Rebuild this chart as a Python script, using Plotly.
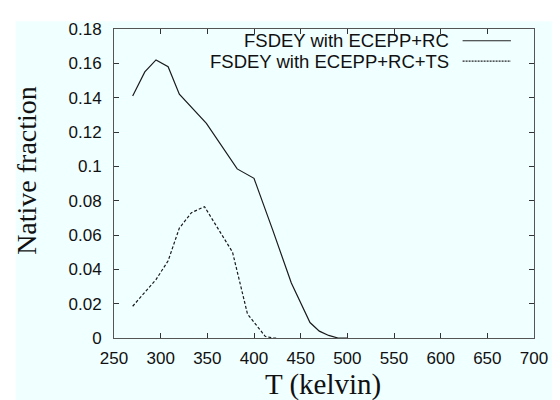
import plotly.graph_objects as go

# Data
solid_T = [270, 283, 295, 308, 320, 349, 382, 400, 420, 440, 460, 470, 480, 490, 500]
solid_v = [0.141, 0.155, 0.162, 0.158, 0.142, 0.125, 0.0985, 0.093, 0.063, 0.032, 0.009, 0.004, 0.0015, 0.0, 0.0]
dashed_T = [270, 295, 308, 320, 333, 347, 377, 393, 412, 420, 425]
dashed_v = [0.0185, 0.034, 0.045, 0.064, 0.073, 0.0765, 0.050, 0.014, 0.001, 0.0, 0.0]
series_names = ["FSDEY with ECEPP+RC", "FSDEY with ECEPP+RC+TS"]
x_ticks = [250, 300, 350, 400, 450, 500, 550, 600, 650, 700]
y_ticks = [0, 0.02, 0.04, 0.06, 0.08, 0.1, 0.12, 0.14, 0.16, 0.18]
y_labels = ["0", "0.02", "0.04", "0.06", "0.08", "0.1", "0.12", "0.14", "0.16", "0.18"]

BG = "#F0FFFF"
SANS = "Liberation Sans, Arial, sans-serif"
SERIF = "Liberation Serif, Times New Roman, serif"

fig = go.Figure()
fig.add_trace(go.Scatter(x=solid_T, y=solid_v, mode="lines", name=series_names[0],
                         line=dict(color="#1a1a1a", width=1.2), showlegend=False))
fig.add_trace(go.Scatter(x=dashed_T, y=dashed_v, mode="lines", name=series_names[1],
                         line=dict(color="#1a1a1a", width=1.2, dash="3px,2px"), showlegend=False))

axis_common = dict(showline=True, linecolor="#555", linewidth=1, mirror="ticks",
                   ticks="inside", ticklen=5, tickcolor="#333", showgrid=False, zeroline=False,
                   tickfont=dict(family=SANS, size=17, color="#111"))

fig.update_xaxes(range=[250, 700], tickvals=x_ticks, ticklabelstandoff=5, **axis_common)
fig.update_yaxes(range=[0, 0.18], tickvals=y_ticks, ticktext=y_labels, ticklabelstandoff=8, **axis_common)

# Legend (gnuplot style: text right-aligned, sample to the right)
leg_y = [0.962, 0.896]
leg_dash = ["solid", "2px,1px"]
for name, yy, d in zip(series_names, leg_y, leg_dash):
    fig.add_annotation(x=0.802, y=yy, xref="paper", yref="paper", text=name, showarrow=False,
                       xanchor="right", yanchor="middle", font=dict(family=SANS, size=18.5, color="#111"))
    fig.add_shape(type="line", xref="paper", yref="paper", x0=0.830, x1=0.945, y0=yy, y1=yy,
                  line=dict(color="#222", width=1.2, dash=d))

# Axis titles
fig.add_annotation(x=-0.208, y=0.543, xref="paper", yref="paper", text="Native fraction",
                   textangle=-90, showarrow=False, xanchor="center", yanchor="middle",
                   font=dict(family=SERIF, size=28, color="#111"))
fig.add_annotation(x=0.498, y=-0.152, xref="paper", yref="paper", text="T (kelvin)",
                   showarrow=False, xanchor="center", yanchor="middle",
                   font=dict(family=SERIF, size=29, color="#111"))

# White margins at top and left of the picture
fig.add_shape(type="rect", xref="paper", yref="paper", x0=-0.3, x1=1.1, y0=1.0252, y1=1.1,
              fillcolor="white", line=dict(width=0), layer="below")
fig.add_shape(type="rect", xref="paper", yref="paper", x0=-0.3, x1=-0.234, y0=-0.3, y1=1.1,
              fillcolor="white", line=dict(width=0), layer="below")

# page body has an 8px margin, so the figure is 552x392 to fill the 560x400 window
fig.update_layout(width=552, height=392, margin=dict(l=106, r=18, t=13, b=62),
                  paper_bgcolor=BG, plot_bgcolor=BG)

fig.write_html("out.html")
